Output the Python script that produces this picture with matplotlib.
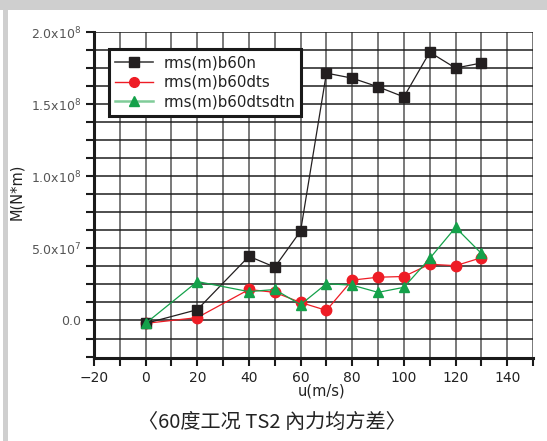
import matplotlib.pyplot as plt
from matplotlib.patches import Rectangle
from matplotlib.ticker import MultipleLocator, FixedLocator, FixedFormatter

plt.rcParams['font.family'] = ['DejaVu Sans', 'Noto Sans CJK SC']

# wind speed (m/s)
u = [0, 20, 40, 50, 60, 70, 80, 90, 100, 110, 120, 130]

# rms of internal moment (N*m)
b60n = [-2.0e6, 7.5e6, 4.45e7, 3.7e7, 6.2e7, 1.715e8, 1.68e8, 1.62e8,
        1.55e8, 1.86e8, 1.75e8, 1.785e8]
b60dts = [-2.0e6, 2.0e6, 2.15e7, 1.95e7, 1.25e7, 7.0e6, 2.8e7, 3.0e7,
          3.05e7, 3.9e7, 3.8e7, 4.35e7]
b60dtsdtn = [-2.0e6, 2.7e7, 2.0e7, 2.15e7, 1.1e7, 2.55e7, 2.45e7, 1.95e7,
             2.3e7, 4.3e7, 6.45e7, 4.65e7]

series_names = ['rms(m)b60n', 'rms(m)b60dts', 'rms(m)b60dtsdtn']

y_ticks = [0, 5e7, 1e8, 1.5e8, 2e8]
y_labels = ['0.0', '5.0x10$^{7}$', '1.0x10$^{8}$', '1.5x10$^{8}$', '2.0x10$^{8}$']

fig = plt.figure(figsize=(5.47, 4.41), dpi=100)

# scanned page edge
fig.patches.append(Rectangle((0, 1 - 10 / 441), 1, 10 / 441, transform=fig.transFigure,
                             facecolor='#cfcfcf', edgecolor='none', zorder=0))
fig.patches.append(Rectangle((3 / 547, 0), 5 / 547, 1, transform=fig.transFigure,
                             facecolor='#cfcfcf', edgecolor='none', zorder=0))

ax = fig.add_axes([94 / 547, 1 - 358 / 441, 439 / 547, 326 / 441])
ax.set_facecolor('none')

ax.set_xlim(-20, 150)
ax.set_ylim(-2.6e7, 2.0e8)

ax.xaxis.set_major_locator(MultipleLocator(20))
ax.xaxis.set_minor_locator(MultipleLocator(10))
ax.yaxis.set_major_locator(FixedLocator(y_ticks))
ax.yaxis.set_major_formatter(FixedFormatter(y_labels))
ax.yaxis.set_minor_locator(MultipleLocator(1.25e7))

# grid
for xv in range(-10, 151, 10):
    ax.axvline(xv, color='#555555', lw=1.1, zorder=1)
yv = -1.25e7
while yv <= 2.0e8 + 1:
    ax.axhline(yv, color='#1e1e1e', lw=1.1, zorder=1)
    yv += 1.25e7

for s in ['top', 'right']:
    ax.spines[s].set_visible(False)
for s in ['left', 'bottom']:
    ax.spines[s].set_linewidth(2.2)
    ax.spines[s].set_color('#1a1a1a')

ax.tick_params(which='both', direction='out', length=6, width=1.5, color='#1a1a1a',
               labelcolor='#555555', labelsize=9, pad=3)
ax.tick_params(axis='x', labelcolor='#222222', labelsize=10)

ax.plot(u, b60n, color='#231f20', lw=0.9, marker='s', ms=7, mfc='#231f20', mec='#231f20',
        zorder=4)
ax.plot(u, b60dts, color='#ee1c25', lw=0.9, marker='o', ms=7.5, mfc='#ee1c25', mec='#ee1c25',
        zorder=3)
ax.plot(u, b60dtsdtn, color='#14a14a', lw=0.9, marker='^', ms=7.5, mfc='#14a14a',
        mec='#14a14a', zorder=5)

# legend handles
h1, = ax.plot([], [], color='#444444', lw=1.2, marker='s', ms=6.5, mfc='#231f20', mec='#231f20')
h2, = ax.plot([], [], color='#ee1c25', lw=1.0, marker='o', ms=7, mfc='#ee1c25', mec='#ee1c25')
h3, = ax.plot([], [], color='#80cc99', lw=1.8, marker='^', ms=7, mfc='#14a14a', mec='#14a14a')
leg = ax.legend([h1, h2, h3], series_names, loc='upper left',
                bbox_to_anchor=(15 / 439, 1 - 17 / 326), frameon=True, fancybox=False,
                framealpha=1, edgecolor='#1a1a1a', handlelength=2.5, handletextpad=0.7,
                labelspacing=0.3, borderpad=0.42, borderaxespad=0,
                prop={'size': 10.8})
leg.get_frame().set_linewidth(2.2)
leg.set_zorder(10)
for t in leg.get_texts():
    t.set_color('#222222')

ax.set_ylabel('M(N*m)', fontsize=10.5, color='#222222')
ax.yaxis.set_label_coords(-70 / 439, 0.51)

fig.text(322 / 547, 1 - 391 / 441, 'u(m/s)', ha='center', va='center', fontsize=10.5,
         color='#222222')
fig.text(272 / 547, 1 - 422 / 441, '〈60度工况 TS2 內力均方差〉', ha='center', va='center',
         fontsize=14.5, color='#222222', family=['Noto Sans CJK SC', 'DejaVu Sans'])

fig.savefig('out.png', dpi=100)
